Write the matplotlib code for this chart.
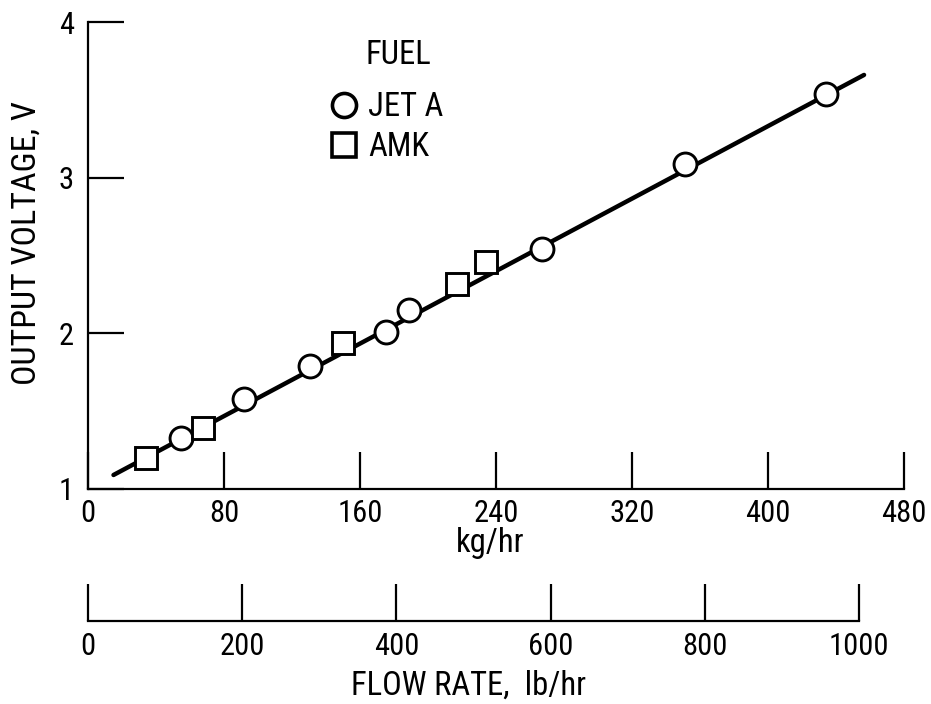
import matplotlib
matplotlib.use("Agg")
import matplotlib.pyplot as plt
from matplotlib import font_manager

# ---------------------------------------------------------------------
# Data (kg/hr, volts)
# ---------------------------------------------------------------------
jet_a_flow = [54.7, 91.8, 130.6, 175.3, 188.8, 267.0, 351.0, 434.0]
jet_a_volt = [1.33, 1.58, 1.79, 2.01, 2.15, 2.54, 3.09, 3.54]

amk_flow = [34.1, 67.6, 150.0, 217.0, 234.0]
amk_volt = [1.20, 1.39, 1.94, 2.32, 2.46]

fit_flow = [15.0, 456.5]
fit_volt = [1.09, 3.66]

kg_ticks = [0, 80, 160, 240, 320, 400, 480]
volt_ticks = [1, 2, 3, 4]
lb_ticks = [0, 200, 400, 600, 800, 1000]
LB_PER_KG = 2.20462

# ---------------------------------------------------------------------
# Font: prefer a narrow face, fall back to condensed DejaVu
# ---------------------------------------------------------------------
names = {f.name for f in font_manager.fontManager.ttflist}
narrow = [n for n in ["Liberation Sans Narrow", "Roboto Condensed",
                      "Open Sans Condensed", "DejaVu Sans Condensed"] if n in names]
if narrow:
    plt.rcParams["font.family"] = [narrow[0], "DejaVu Sans"]
else:
    plt.rcParams["font.family"] = ["DejaVu Sans"]
    plt.rcParams["font.stretch"] = "condensed"
FS = 22        # tick labels
FS_LAB = 23.5  # axis labels, legend

W, H = 931, 704
fig = plt.figure(figsize=(W / 100, H / 100), dpi=100)


def fx(px):
    return px / W


def fy(py):
    return 1 - py / H


# main axes: left spine x=88, bottom y=489, right end x=904, top y=22
ax = fig.add_axes([fx(88), fy(489), fx(904) - fx(88), fy(22) - fy(489)])

ax.plot(fit_flow, fit_volt, color="black", lw=3.2, solid_capstyle="round", zorder=2)
ax.plot(jet_a_flow, jet_a_volt, linestyle="none", marker="o", ms=16.5,
        mfc="white", mec="black", mew=2.1, label="JET A", zorder=3)
ax.plot(amk_flow, amk_volt, linestyle="none", marker="s", ms=16,
        mfc="white", mec="black", mew=2.1, label="AMK", zorder=3)

ax.set_xlim(0, 480)
ax.set_ylim(1, 4)
ax.set_xticks(kg_ticks)
ax.set_yticks(volt_ticks)
ax.set_xticklabels([str(v) for v in kg_ticks])
ax.set_yticklabels([str(v) for v in volt_ticks])

for s in ["top", "right"]:
    ax.spines[s].set_visible(False)
for s in ["left", "bottom"]:
    ax.spines[s].set_linewidth(1.6)

ax.tick_params(axis="x", direction="in", length=26.5, width=1.6,
               labelsize=FS, pad=7)
ax.tick_params(axis="y", direction="in", length=26, width=1.6,
               labelsize=FS, pad=10)

ax.set_xlabel("kg/hr", fontsize=FS_LAB)
ax.xaxis.set_label_coords(fx(490), fy(527), transform=fig.transFigure)
ax.set_ylabel("OUTPUT VOLTAGE, V", fontsize=24.5)
ax.yaxis.set_label_coords(fx(43), fy(243), transform=fig.transFigure)

# legend
ax.text(fx(366), fy(55), "FUEL", transform=fig.transFigure, fontsize=FS_LAB,
        ha="left", va="center")
leg = ax.legend(loc="upper left", bbox_to_anchor=(fx(329), fy(91)),
                bbox_transform=fig.transFigure, frameon=False, fontsize=FS_LAB,
                handlelength=0.9, handletextpad=0.3, labelspacing=0.25,
                borderpad=0, borderaxespad=0, markerscale=1.05)
for hnd in leg.legend_handles:
    hnd.set_markeredgewidth(2.6)

# second scale in lb/hr: spine at y=621
ax2 = fig.add_axes([fx(88), fy(621), fx(904) - fx(88), 0.04])
ax2.set_xlim(0, 480 * LB_PER_KG)
ax2.set_ylim(0, 1)
ax2.patch.set_visible(False)
for s in ["top", "right", "left"]:
    ax2.spines[s].set_visible(False)
ax2.spines["bottom"].set_linewidth(1.6)
ax2.spines["bottom"].set_bounds(0, 1000)
ax2.set_yticks([])
ax2.set_xticks(lb_ticks)
ax2.set_xticklabels([str(v) for v in lb_ticks])
ax2.tick_params(axis="x", direction="in", length=27, width=1.6,
                labelsize=FS, pad=8)
ax2.set_xlabel("FLOW RATE,  lb/hr", fontsize=FS_LAB)
ax2.xaxis.set_label_coords(fx(469), fy(670), transform=fig.transFigure)

fig.savefig("out.png", dpi=100)
